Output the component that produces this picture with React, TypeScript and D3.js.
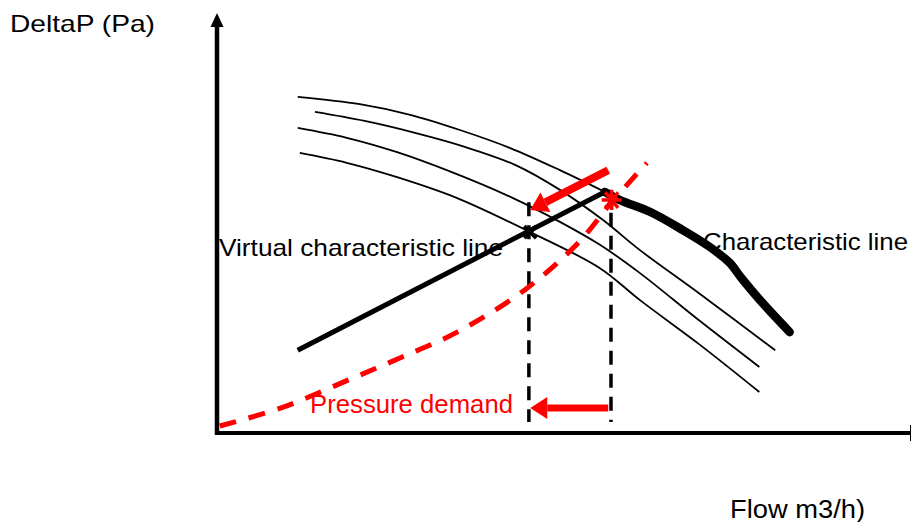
import React, { useEffect, useRef } from 'react';
import * as d3 from 'd3';

type Pt = [number, number];

// Pump curves (flow, deltaP) in relative units 0-100
const speedCurve1: Pt[] = [
    [11.7, 82.0], [20.7, 80.2], [28.0, 77.6], [35.2, 73.9], [42.5, 69.5], [49.7, 64.1], [56.2, 58.8]
];
const speedCurve2: Pt[] = [
    [14.2, 78.3], [21.4, 76.1], [28.7, 73.2], [35.9, 69.8], [43.2, 65.4], [49.7, 59.3], [55.9, 52.0],
    [61.3, 44.6], [70.0, 33.9], [80.9, 20.2]
];
const speedCurve3: Pt[] = [
    [11.7, 74.4], [18.8, 72.0], [26.1, 68.5], [33.3, 64.1], [42.9, 57.3], [49.7, 51.5], [55.5, 45.9],
    [61.3, 39.0], [70.0, 27.3], [78.6, 16.1]
];
const speedCurve4: Pt[] = [
    [12.0, 68.3], [18.8, 65.9], [26.1, 62.4], [34.8, 57.3], [45.4, 49.0], [55.5, 40.2], [61.3, 32.4],
    [70.0, 21.5], [78.6, 10.0]
];
const characteristic: Pt[] = [
    [56.2, 58.8], [58.4, 56.8], [62.8, 53.9], [67.5, 49.5], [71.4, 45.4], [74.3, 41.5], [76.0, 37.8],
    [78.7, 32.4], [83.0, 24.6]
];
const virtualCharacteristic: Pt[] = [[11.7, 20.2], [56.2, 58.8]];
const pressureDemand: Pt[] = [
    [0.4, 1.7], [9.6, 6.3], [18.3, 12.4], [26.5, 18.3], [34.8, 24.6], [44.6, 34.9], [52.3, 46.3],
    [57.2, 56.3], [62.3, 65.9]
];
const operatingPoint: Pt = [57.2, 56.8];
const virtualPoint: Pt = [45.4, 49.0];
// red arrows: [from, to]
const shiftArrowUpper: [Pt, Pt] = [[56.7, 64.1], [45.4, 54.4]];
const shiftArrowLower: [Pt, Pt] = [[56.7, 6.1], [45.4, 6.1]];
// dashed guide lines: [flow, top deltaP]
const guides: Pt[] = [[45.2, 56.3], [57.1, 59.3]];
const guideBottom = 2.7;

const yAxisTitle = 'DeltaP (Pa)';
const xAxisTitle = 'Flow m3/h)';

export default function App() {
    const ref = useRef<SVGSVGElement>(null);

    useEffect(() => {
        const width = 911;
        const height = 522;
        const svg = d3.select(ref.current!);
        svg.selectAll('*').remove();

        const x = d3.scaleLinear().domain([0, 100]).range([217, 907]);
        const y = d3.scaleLinear().domain([0, 100]).range([433, 23]);

        svg.append('rect').attr('width', width).attr('height', height).attr('fill', 'white');

        const smooth = d3
            .line<Pt>()
            .x((d) => x(d[0]))
            .y((d) => y(d[1]))
            .curve(d3.curveCatmullRom.alpha(0.5));

        // axes
        svg.append('line')
            .attr('x1', x(0)).attr('x2', x(0))
            .attr('y1', y(0) + 2).attr('y2', 26)
            .attr('stroke', 'black').attr('stroke-width', 4.5);
        svg.append('path')
            .attr('d', `M${x(0)},13 L${x(0) - 6.5},27 L${x(0) + 6.5},27 Z`)
            .attr('fill', 'black');
        svg.append('line')
            .attr('x1', x(0) - 2).attr('x2', 910)
            .attr('y1', y(0)).attr('y2', y(0))
            .attr('stroke', 'black').attr('stroke-width', 4);
        svg.append('line')
            .attr('x1', 910.5).attr('x2', 910.5)
            .attr('y1', y(0) - 8).attr('y2', y(0) + 8)
            .attr('stroke', 'black').attr('stroke-width', 1);

        // thin speed curves
        [speedCurve1, speedCurve2, speedCurve3, speedCurve4].forEach((c) => {
            svg.append('path')
                .attr('d', smooth(c)!)
                .attr('fill', 'none')
                .attr('stroke', 'black')
                .attr('stroke-width', 1.8);
        });

        // dashed guides
        guides.forEach((g) => {
            svg.append('line')
                .attr('x1', x(g[0])).attr('x2', x(g[0]))
                .attr('y1', y(g[1])).attr('y2', y(guideBottom))
                .attr('stroke', 'black')
                .attr('stroke-width', 3.5)
                .attr('stroke-dasharray', '14 9');
        });

        // characteristic lines
        svg.append('path')
            .attr('d', smooth(characteristic)!)
            .attr('fill', 'none')
            .attr('stroke', 'black')
            .attr('stroke-width', 8.5)
            .attr('stroke-linecap', 'round')
            .attr('stroke-linejoin', 'round');
        svg.append('path')
            .attr('d', smooth(virtualCharacteristic)!)
            .attr('fill', 'none')
            .attr('stroke', 'black')
            .attr('stroke-width', 5);

        // pressure demand
        svg.append('path')
            .attr('d', smooth(pressureDemand)!)
            .attr('fill', 'none')
            .attr('stroke', 'red')
            .attr('stroke-width', 5)
            .attr('stroke-dasharray', '17 13');

        // arrows
        const arrow = (a: [Pt, Pt], w: number) => {
            const x1 = x(a[0][0]), y1 = y(a[0][1]);
            const x2 = x(a[1][0]), y2 = y(a[1][1]);
            const ang = Math.atan2(y2 - y1, x2 - x1);
            const head = 17, half = 11;
            const bx = x2 - head * Math.cos(ang), by = y2 - head * Math.sin(ang);
            svg.append('line')
                .attr('x1', x1).attr('y1', y1).attr('x2', bx).attr('y2', by)
                .attr('stroke', 'red').attr('stroke-width', w);
            const nx = -Math.sin(ang), ny = Math.cos(ang);
            svg.append('path')
                .attr('d', `M${x2},${y2} L${bx + nx * half},${by + ny * half} L${bx - nx * half},${by - ny * half} Z`)
                .attr('fill', 'red');
        };
        arrow(shiftArrowUpper, 8);
        arrow(shiftArrowLower, 7);

        // markers
        const vx = x(virtualPoint[0]), vy = y(virtualPoint[1]);
        svg.append('path')
            .attr('d', `M${vx - 6},${vy - 6}L${vx + 6},${vy + 6}M${vx - 6},${vy + 6}L${vx + 6},${vy - 6}`)
            .attr('stroke', 'black').attr('stroke-width', 4);
        const ox = x(operatingPoint[0]), oy = y(operatingPoint[1]);
        const r = 10;
        svg.append('path')
            .attr('d', [0, 50, 130, 90].map((deg) => {
                const t = (deg * Math.PI) / 180;
                return `M${ox - r * Math.cos(t)},${oy - r * Math.sin(t)}L${ox + r * Math.cos(t)},${oy + r * Math.sin(t)}`;
            }).join(''))
            .attr('stroke', 'red').attr('stroke-width', 3.5);

        // texts
        const label = (t: string, tx: number, ty: number, len: number, fill: string, size = 24) => {
            svg.append('text')
                .attr('x', tx).attr('y', ty)
                .attr('font-family', '"Liberation Sans", Arial, sans-serif')
                .attr('font-size', size)
                .attr('fill', fill)
                .attr('textLength', len)
                .attr('lengthAdjust', 'spacingAndGlyphs')
                .text(t);
        };
        label(yAxisTitle, 10, 32, 145, 'black');
        label(xAxisTitle, 730, 518, 135, 'black', 25);
        label('Virtual characteristic line', 219, 256, 284, 'black');
        label('Characteristic line', 703, 250, 205, 'black');
        label('Pressure demand', 310, 413, 203, 'red', 25);
    }, []);

    return (
        <div style={{ position: 'absolute', left: 0, top: 0, width: 911, height: 522, background: 'white' }}>
            <svg ref={ref} width={911} height={522} style={{ display: 'block' }} />
        </div>
    );
}
